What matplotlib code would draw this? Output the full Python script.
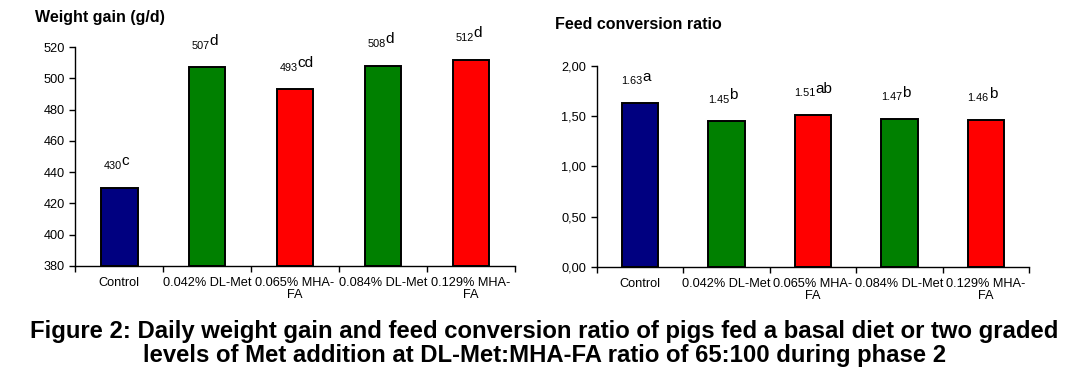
import numpy as np
import matplotlib.pyplot as plt

groups = ["Control", "0.042% DL-Met", "0.065% MHA-\nFA", "0.084% DL-Met", "0.129% MHA-\nFA"]
weight_gain = [430, 507, 493, 508, 512]
wg_letters = ["c", "d", "cd", "d", "d"]
fcr = [1.63, 1.45, 1.51, 1.47, 1.46]
fcr_letters = ["a", "b", "ab", "b", "b"]
colors = ["#000080", "#008000", "#FF0000", "#008000", "#FF0000"]

plt.rcParams['font.family'] = ['Liberation Sans', 'DejaVu Sans']

fig = plt.figure(figsize=(10.89, 3.83), dpi=100)
ax1 = fig.add_axes([0.0689, 0.3055, 0.4040, 0.5715])
ax2 = fig.add_axes([0.548, 0.303, 0.397, 0.525])


def draw(ax, vals, letters, ymin, ymax, step, fmt, lbl_fmt, off):
    x = np.arange(len(vals))
    ax.bar(x, np.array(vals) - ymin, bottom=ymin, width=0.42, color=colors,
           edgecolor="black", linewidth=1.4)
    ax.set_xlim(-0.5, len(vals) - 0.5)
    ax.set_ylim(ymin, ymax)
    ticks = np.arange(ymin, ymax + step / 2, step)
    ax.set_yticks(ticks)
    ax.set_yticklabels([fmt(v) for v in ticks])
    ax.set_xticks(x)
    ax.set_xticklabels(groups, fontsize=9.2, linespacing=0.95)
    ax.set_xticks(np.arange(-0.5, len(vals)), minor=True)
    ax.tick_params(axis="x", which="major", length=0, pad=8)
    ax.tick_params(axis="x", which="minor", length=4, direction="out", width=1)
    ax.tick_params(axis="y", length=4, width=1, labelsize=9.2)
    for s in ["top", "right"]:
        ax.spines[s].set_visible(False)
    for s in ["left", "bottom"]:
        ax.spines[s].set_linewidth(1)
    for xi, v, l in zip(x, vals, letters):
        ax.annotate(lbl_fmt(v), (xi, v), xytext=(2, off), textcoords="offset points",
                    ha="right", va="bottom", fontsize=7.8)
        ax.annotate(l, (xi, v), xytext=(2, off + 2), textcoords="offset points",
                    ha="left", va="bottom", fontsize=11)


draw(ax1, weight_gain, wg_letters, 380, 520, 20, lambda v: "%d" % v,
     lambda v: "%d" % v, 12)
draw(ax2, fcr, fcr_letters, 0, 2.0, 0.5, lambda v: ("%.2f" % v).replace(".", ","),
     lambda v: "%.2f" % v, 12)

fig.text(0.032, 0.955, "Weight gain (g/d)", fontsize=11.5, fontweight="bold", va="center")
fig.text(0.510, 0.935, "Feed conversion ratio", fontsize=11.5, fontweight="bold", va="center")

fig.text(0.5, 0.103, "Figure 2: Daily weight gain and feed conversion ratio of pigs fed a basal diet or two graded\n"
         "levels of Met addition at DL-Met:MHA-FA ratio of 65:100 during phase 2",
         ha="center", va="center", fontsize=17.2, fontweight="bold", linespacing=1.08)

fig.savefig("out.png", dpi=100)
